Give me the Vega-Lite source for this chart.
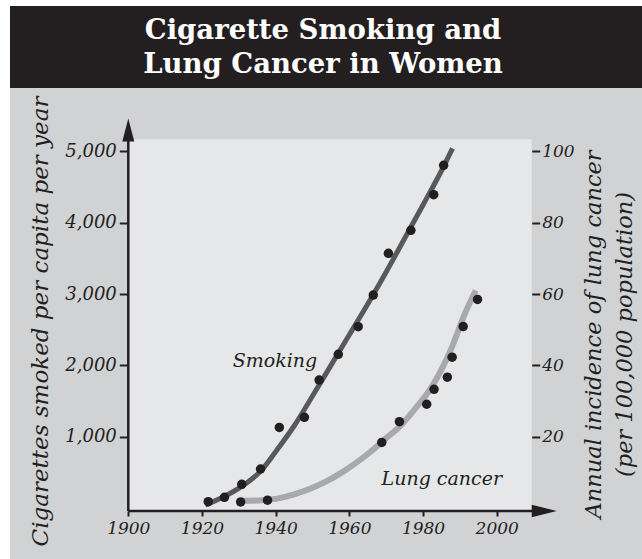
{
  "$schema": "https://vega.github.io/schema/vega-lite/v6.json",
  "background": "#ffffff",
  "padding": {"left": 10, "top": 6, "right": 0, "bottom": 0},
  "spacing": 0,
  "bounds": "flush",
  "config": {
    "view": {"stroke": null},
    "font": "DejaVu Serif",
    "style": {"guide-label": {"fontStyle": "italic", "font": "DejaVu Serif", "fill": "#231f20"}},
    "axis": {"zindex": 2, "labelFont": "DejaVu Serif", "labelFontStyle": "italic", "labelColor": "#231f20", "titleFont": "DejaVu Serif", "titleFontStyle": "italic", "titleFontWeight": "normal", "titleColor": "#231f20", "tickColor": "#231f20", "domain": false, "grid": false}
  },
  "datasets": {
    "title": [
      {"line": 1, "text": "Cigarette Smoking and"},
      {"line": 2, "text": "Lung Cancer in Women"}
    ],
    "one": [{"k": 1}],
    "smokingDots": [
      {"year": 1921.7, "value": 88},
      {"year": 1926.1, "value": 150},
      {"year": 1930.8, "value": 332},
      {"year": 1935.9, "value": 547},
      {"year": 1941.0, "value": 1130},
      {"year": 1947.8, "value": 1272},
      {"year": 1951.8, "value": 1795},
      {"year": 1957.0, "value": 2156},
      {"year": 1962.4, "value": 2543},
      {"year": 1966.5, "value": 2987},
      {"year": 1970.6, "value": 3572},
      {"year": 1976.7, "value": 3895},
      {"year": 1982.9, "value": 4394},
      {"year": 1985.6, "value": 4806}
    ],
    "smokingCurve": [
      {"year": 1920.9, "value": 40},
      {"year": 1926, "value": 160},
      {"year": 1931, "value": 310},
      {"year": 1936, "value": 520},
      {"year": 1940, "value": 790},
      {"year": 1945, "value": 1150},
      {"year": 1950, "value": 1570},
      {"year": 1955, "value": 2000},
      {"year": 1960, "value": 2430},
      {"year": 1965, "value": 2860},
      {"year": 1970, "value": 3310},
      {"year": 1975, "value": 3780},
      {"year": 1980, "value": 4250},
      {"year": 1985, "value": 4730},
      {"year": 1988, "value": 5045}
    ],
    "lungDots": [
      {"year": 1930.5, "rate": 1.7},
      {"year": 1937.8, "rate": 2.2},
      {"year": 1968.8, "rate": 18.4},
      {"year": 1973.6, "rate": 24.2},
      {"year": 1981.0, "rate": 29.1},
      {"year": 1983.0, "rate": 33.3},
      {"year": 1986.6, "rate": 36.7},
      {"year": 1987.9, "rate": 42.3},
      {"year": 1990.9, "rate": 50.9},
      {"year": 1994.8, "rate": 58.5}
    ],
    "lungCurve": [
      {"year": 1931.2, "rate": 2.0},
      {"year": 1935, "rate": 2.1},
      {"year": 1938, "rate": 2.3},
      {"year": 1942, "rate": 3.0},
      {"year": 1946, "rate": 4.2},
      {"year": 1950, "rate": 5.7},
      {"year": 1954, "rate": 7.6},
      {"year": 1958, "rate": 10.0},
      {"year": 1962, "rate": 12.8},
      {"year": 1966, "rate": 16.0},
      {"year": 1970, "rate": 19.6},
      {"year": 1974, "rate": 23.2},
      {"year": 1978, "rate": 28.0},
      {"year": 1982, "rate": 33.4},
      {"year": 1985, "rate": 38.8},
      {"year": 1988, "rate": 45.5},
      {"year": 1991, "rate": 53.6},
      {"year": 1994.3, "rate": 61.0}
    ],
    "labels": [
      {"label": "Smoking", "year": 1939.8, "value": 1973},
      {"label": "Lung cancer", "year": 1985.1, "value": 323}
    ]
  },
  "vconcat": [
    {
      "width": 632,
      "height": 82,
      "view": {"fill": "#231f20", "stroke": null},
      "data": {"name": "title"},
      "mark": {"type": "text", "font": "DejaVu Serif", "fontWeight": "bold", "fontSize": 27.5, "color": "#ffffff", "baseline": "alphabetic", "align": "center", "dx": -3, "dy": 9},
      "encoding": {
        "y": {"field": "line", "type": "ordinal", "axis": null, "scale": {"type": "point", "padding": 0.706}},
        "text": {"field": "text"}
      }
    },
    {
      "width": 632,
      "height": 471,
      "view": {"fill": "#d1d2d4", "stroke": null},
      "resolve": {"scale": {"y": "independent"}, "axis": {"y": "independent"}},
      "layer": [
        {
          "layer": [
            {
              "data": {"name": "one"},
              "mark": {"type": "rect", "color": "#e6e7e8"},
              "encoding": {
                "x": {"datum": 1900, "type": "quantitative", "scale": {"domain": [1867.89, 2039.44], "nice": false, "zero": false},
                  "axis": {"values": [1900, 1920, 1940, 1960, 1980, 2000], "format": "d", "orient": "bottom", "offset": -48, "ticks": true, "tickSize": 5, "tickWidth": 2, "labelFontSize": 17, "labelFontStyle": "italic", "labelPadding": 4, "labelFlush": false, "labelOverlap": false, "labelBound": false, "title": null}},
                "x2": {"datum": 2009.5},
                "y": {"datum": -42, "type": "quantitative", "scale": {"domain": [-715.3, 5890.6], "nice": false, "zero": false},
                  "axis": {"values": [1000, 2000, 3000, 4000, 5000], "format": ",d", "orient": "left", "offset": -118.3, "ticks": true, "tickSize": 9, "tickWidth": 2, "labelFontSize": 18, "labelFontStyle": "italic", "labelPadding": 3, "labelOverlap": false, "labelBound": false, "labelFlush": false, "title": "Cigarettes smoked per capita per year", "titleFontSize": 23, "titleAngle": 270, "titleX": -81.3, "titleY": 233, "titleAlign": "center", "titleBaseline": "alphabetic"}},
                "y2": {"datum": 5171}
              }
            },
            {
              "data": {"name": "one"},
              "mark": {"type": "rule", "color": "#231f20", "strokeWidth": 2.5},
              "encoding": {
                "x": {"datum": 1900, "type": "quantitative", "scale": {"domain": [1867.89, 2039.44], "nice": false, "zero": false},
                  "axis": {"values": [1900, 1920, 1940, 1960, 1980, 2000], "format": "d", "orient": "bottom", "offset": -48, "ticks": true, "tickSize": 5, "tickWidth": 2, "labelFontSize": 17, "labelFontStyle": "italic", "labelPadding": 4, "labelFlush": false, "labelOverlap": false, "labelBound": false, "title": null}},
                "y": {"datum": -42, "type": "quantitative", "scale": {"domain": [-715.3, 5890.6], "nice": false, "zero": false},
                  "axis": {"values": [1000, 2000, 3000, 4000, 5000], "format": ",d", "orient": "left", "offset": -118.3, "ticks": true, "tickSize": 9, "tickWidth": 2, "labelFontSize": 18, "labelFontStyle": "italic", "labelPadding": 3, "labelOverlap": false, "labelBound": false, "labelFlush": false, "title": "Cigarettes smoked per capita per year", "titleFontSize": 23, "titleAngle": 270, "titleX": -81.3, "titleY": 233, "titleAlign": "center", "titleBaseline": "alphabetic"}},
                "y2": {"datum": 5250}
              }
            },
            {
              "data": {"name": "one"},
              "mark": {"type": "rule", "color": "#231f20", "strokeWidth": 2.5},
              "encoding": {
                "x": {"datum": 1900, "type": "quantitative", "scale": {"domain": [1867.89, 2039.44], "nice": false, "zero": false},
                  "axis": {"values": [1900, 1920, 1940, 1960, 1980, 2000], "format": "d", "orient": "bottom", "offset": -48, "ticks": true, "tickSize": 5, "tickWidth": 2, "labelFontSize": 17, "labelFontStyle": "italic", "labelPadding": 4, "labelFlush": false, "labelOverlap": false, "labelBound": false, "title": null}},
                "x2": {"datum": 2011},
                "y": {"datum": -42, "type": "quantitative", "scale": {"domain": [-715.3, 5890.6], "nice": false, "zero": false},
                  "axis": {"values": [1000, 2000, 3000, 4000, 5000], "format": ",d", "orient": "left", "offset": -118.3, "ticks": true, "tickSize": 9, "tickWidth": 2, "labelFontSize": 18, "labelFontStyle": "italic", "labelPadding": 3, "labelOverlap": false, "labelBound": false, "labelFlush": false, "title": "Cigarettes smoked per capita per year", "titleFontSize": 23, "titleAngle": 270, "titleX": -81.3, "titleY": 233, "titleAlign": "center", "titleBaseline": "alphabetic"}}
              }
            },
            {
              "data": {"name": "one"},
              "mark": {"type": "point", "shape": "M0,-1L0.52,1L-0.52,1Z", "filled": true, "color": "#231f20", "opacity": 1, "size": 529, "strokeWidth": 0},
              "encoding": {
                "x": {"datum": 1900, "type": "quantitative", "scale": {"domain": [1867.89, 2039.44], "nice": false, "zero": false},
                  "axis": {"values": [1900, 1920, 1940, 1960, 1980, 2000], "format": "d", "orient": "bottom", "offset": -48, "ticks": true, "tickSize": 5, "tickWidth": 2, "labelFontSize": 17, "labelFontStyle": "italic", "labelPadding": 4, "labelFlush": false, "labelOverlap": false, "labelBound": false, "title": null}},
                "y": {"datum": 5302, "type": "quantitative", "scale": {"domain": [-715.3, 5890.6], "nice": false, "zero": false},
                  "axis": {"values": [1000, 2000, 3000, 4000, 5000], "format": ",d", "orient": "left", "offset": -118.3, "ticks": true, "tickSize": 9, "tickWidth": 2, "labelFontSize": 18, "labelFontStyle": "italic", "labelPadding": 3, "labelOverlap": false, "labelBound": false, "labelFlush": false, "title": "Cigarettes smoked per capita per year", "titleFontSize": 23, "titleAngle": 270, "titleX": -81.3, "titleY": 233, "titleAlign": "center", "titleBaseline": "alphabetic"}}
              }
            },
            {
              "data": {"name": "one"},
              "mark": {"type": "point", "shape": "M1,0L-1,0.5L-1,-0.5Z", "filled": true, "color": "#231f20", "opacity": 1, "size": 625, "strokeWidth": 0},
              "encoding": {
                "x": {"datum": 2012.9, "type": "quantitative", "scale": {"domain": [1867.89, 2039.44], "nice": false, "zero": false},
                  "axis": {"values": [1900, 1920, 1940, 1960, 1980, 2000], "format": "d", "orient": "bottom", "offset": -48, "ticks": true, "tickSize": 5, "tickWidth": 2, "labelFontSize": 17, "labelFontStyle": "italic", "labelPadding": 4, "labelFlush": false, "labelOverlap": false, "labelBound": false, "title": null}},
                "y": {"datum": -42, "type": "quantitative", "scale": {"domain": [-715.3, 5890.6], "nice": false, "zero": false},
                  "axis": {"values": [1000, 2000, 3000, 4000, 5000], "format": ",d", "orient": "left", "offset": -118.3, "ticks": true, "tickSize": 9, "tickWidth": 2, "labelFontSize": 18, "labelFontStyle": "italic", "labelPadding": 3, "labelOverlap": false, "labelBound": false, "labelFlush": false, "title": "Cigarettes smoked per capita per year", "titleFontSize": 23, "titleAngle": 270, "titleX": -81.3, "titleY": 233, "titleAlign": "center", "titleBaseline": "alphabetic"}}
              }
            },
            {
              "data": {"name": "smokingCurve"},
              "mark": {"type": "line", "color": "#58595b", "strokeWidth": 5, "interpolate": "monotone"},
              "encoding": {
                "x": {"field": "year", "type": "quantitative", "scale": {"domain": [1867.89, 2039.44], "nice": false, "zero": false},
                  "axis": {"values": [1900, 1920, 1940, 1960, 1980, 2000], "format": "d", "orient": "bottom", "offset": -48, "ticks": true, "tickSize": 5, "tickWidth": 2, "labelFontSize": 17, "labelFontStyle": "italic", "labelPadding": 4, "labelFlush": false, "labelOverlap": false, "labelBound": false, "title": null}},
                "y": {"field": "value", "type": "quantitative", "scale": {"domain": [-715.3, 5890.6], "nice": false, "zero": false},
                  "axis": {"values": [1000, 2000, 3000, 4000, 5000], "format": ",d", "orient": "left", "offset": -118.3, "ticks": true, "tickSize": 9, "tickWidth": 2, "labelFontSize": 18, "labelFontStyle": "italic", "labelPadding": 3, "labelOverlap": false, "labelBound": false, "labelFlush": false, "title": "Cigarettes smoked per capita per year", "titleFontSize": 23, "titleAngle": 270, "titleX": -81.3, "titleY": 233, "titleAlign": "center", "titleBaseline": "alphabetic"}}
              }
            },
            {
              "data": {"name": "smokingDots"},
              "mark": {"type": "circle", "color": "#231f20", "opacity": 1, "size": 90},
              "encoding": {
                "x": {"field": "year", "type": "quantitative", "scale": {"domain": [1867.89, 2039.44], "nice": false, "zero": false},
                  "axis": {"values": [1900, 1920, 1940, 1960, 1980, 2000], "format": "d", "orient": "bottom", "offset": -48, "ticks": true, "tickSize": 5, "tickWidth": 2, "labelFontSize": 17, "labelFontStyle": "italic", "labelPadding": 4, "labelFlush": false, "labelOverlap": false, "labelBound": false, "title": null}},
                "y": {"field": "value", "type": "quantitative", "scale": {"domain": [-715.3, 5890.6], "nice": false, "zero": false},
                  "axis": {"values": [1000, 2000, 3000, 4000, 5000], "format": ",d", "orient": "left", "offset": -118.3, "ticks": true, "tickSize": 9, "tickWidth": 2, "labelFontSize": 18, "labelFontStyle": "italic", "labelPadding": 3, "labelOverlap": false, "labelBound": false, "labelFlush": false, "title": "Cigarettes smoked per capita per year", "titleFontSize": 23, "titleAngle": 270, "titleX": -81.3, "titleY": 233, "titleAlign": "center", "titleBaseline": "alphabetic"}}
              }
            },
            {
              "data": {"name": "labels"},
              "mark": {"type": "text", "font": "DejaVu Serif", "fontStyle": "italic", "fontSize": 19, "color": "#231f20", "align": "center", "baseline": "alphabetic"},
              "encoding": {
                "x": {"field": "year", "type": "quantitative", "scale": {"domain": [1867.89, 2039.44], "nice": false, "zero": false},
                  "axis": {"values": [1900, 1920, 1940, 1960, 1980, 2000], "format": "d", "orient": "bottom", "offset": -48, "ticks": true, "tickSize": 5, "tickWidth": 2, "labelFontSize": 17, "labelFontStyle": "italic", "labelPadding": 4, "labelFlush": false, "labelOverlap": false, "labelBound": false, "title": null}},
                "y": {"field": "value", "type": "quantitative", "scale": {"domain": [-715.3, 5890.6], "nice": false, "zero": false},
                  "axis": {"values": [1000, 2000, 3000, 4000, 5000], "format": ",d", "orient": "left", "offset": -118.3, "ticks": true, "tickSize": 9, "tickWidth": 2, "labelFontSize": 18, "labelFontStyle": "italic", "labelPadding": 3, "labelOverlap": false, "labelBound": false, "labelFlush": false, "title": "Cigarettes smoked per capita per year", "titleFontSize": 23, "titleAngle": 270, "titleX": -81.3, "titleY": 233, "titleAlign": "center", "titleBaseline": "alphabetic"}},
                "text": {"field": "label"}
              }
            }
          ]
        },
        {
          "layer": [
            {
              "data": {"name": "lungCurve"},
              "mark": {"type": "line", "color": "#a7a9ac", "strokeWidth": 6, "interpolate": "monotone"},
              "encoding": {
                "x": {"field": "year", "type": "quantitative", "scale": {"domain": [1867.89, 2039.44], "nice": false, "zero": false},
                  "axis": {"values": [1900, 1920, 1940, 1960, 1980, 2000], "format": "d", "orient": "bottom", "offset": -48, "ticks": true, "tickSize": 5, "tickWidth": 2, "labelFontSize": 17, "labelFontStyle": "italic", "labelPadding": 4, "labelFlush": false, "labelOverlap": false, "labelBound": false, "title": null}},
                "y": {"field": "rate", "type": "quantitative", "scale": {"domain": [-14.306, 117.812], "nice": false, "zero": false},
                  "axis": {"values": [20, 40, 60, 80, 100], "format": "d", "orient": "right", "offset": -110.3, "ticks": true, "tickSize": 8, "tickWidth": 2, "labelFontSize": 17, "labelFontStyle": "italic", "labelPadding": 2, "labelOverlap": false, "labelBound": false, "labelFlush": false, "title": ["Annual incidence of  lung cancer", "(per 100,000 population)"], "titleFontSize": 22.5, "titleAngle": 270, "titleX": 68.3, "titleY": 246, "titleAlign": "center", "titleBaseline": "alphabetic", "titleLineHeight": 31}}
              }
            },
            {
              "data": {"name": "lungDots"},
              "mark": {"type": "circle", "color": "#231f20", "opacity": 1, "size": 90},
              "encoding": {
                "x": {"field": "year", "type": "quantitative", "scale": {"domain": [1867.89, 2039.44], "nice": false, "zero": false},
                  "axis": {"values": [1900, 1920, 1940, 1960, 1980, 2000], "format": "d", "orient": "bottom", "offset": -48, "ticks": true, "tickSize": 5, "tickWidth": 2, "labelFontSize": 17, "labelFontStyle": "italic", "labelPadding": 4, "labelFlush": false, "labelOverlap": false, "labelBound": false, "title": null}},
                "y": {"field": "rate", "type": "quantitative", "scale": {"domain": [-14.306, 117.812], "nice": false, "zero": false},
                  "axis": {"values": [20, 40, 60, 80, 100], "format": "d", "orient": "right", "offset": -110.3, "ticks": true, "tickSize": 8, "tickWidth": 2, "labelFontSize": 17, "labelFontStyle": "italic", "labelPadding": 2, "labelOverlap": false, "labelBound": false, "labelFlush": false, "title": ["Annual incidence of  lung cancer", "(per 100,000 population)"], "titleFontSize": 22.5, "titleAngle": 270, "titleX": 68.3, "titleY": 246, "titleAlign": "center", "titleBaseline": "alphabetic", "titleLineHeight": 31}}
              }
            }
          ]
        }
      ]
    }
  ]
}
